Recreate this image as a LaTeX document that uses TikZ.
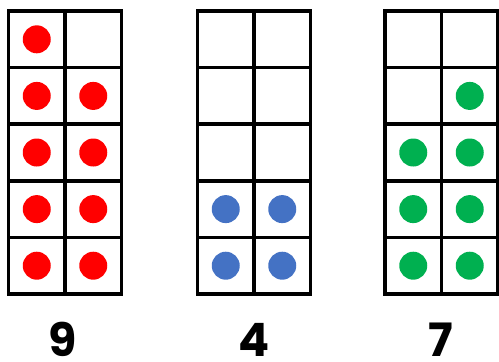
\documentclass[tikz,border=0pt]{standalone}
\usepackage{fontspec}
\setmainfont{Poppins}
\definecolor{dotred}{HTML}{FF0000}
\definecolor{dotblue}{HTML}{4472C4}
\definecolor{dotgreen}{HTML}{00B050}
\begin{document}
\begin{tikzpicture}[x=1pt,y=-1pt,
  gridline/.style={line width=3.6pt,black},
  counter/.style={circle,inner sep=0pt,minimum size=28pt},
  numlabel/.style={anchor=base,inner sep=0pt,font=\fontsize{46}{46}\selectfont\bfseries}]
\useasboundingbox (0,0) rectangle (499,362);
\def\cw{56.5}\def\ch{56.6}
% frames
\foreach \fx/\nm in {8.5/a,197.5/b,385/c}{
  \draw[gridline] (\fx,11) rectangle ++(113,283);
  \draw[gridline] (\fx+\cw,11) -- ++(0,283);
  \foreach \r in {1,...,4}{\draw[gridline] (\fx,11+\r*\ch) -- ++(113,0);}
}
% dots: frame 1
\foreach \c/\r [count=\i] in {0/0,0/1,1/1,0/2,1/2,0/3,1/3,0/4,1/4}{
  \node[counter,fill=dotred] (r\i) at (8.5+\c*\cw+\cw/2,11+\r*\ch+\ch/2) {};}
% frame 2
\foreach \c/\r [count=\i] in {0/3,1/3,0/4,1/4}{
  \node[counter,fill=dotblue] (b\i) at (197.5+\c*\cw+\cw/2,11+\r*\ch+\ch/2) {};}
% frame 3
\foreach \c/\r [count=\i] in {1/1,0/2,1/2,0/3,1/3,0/4,1/4}{
  \node[counter,fill=dotgreen] (g\i) at (385+\c*\cw+\cw/2,11+\r*\ch+\ch/2) {};}
\node[numlabel] (n9) at (63,356.5) {9};
\node[numlabel] (n4) at (254.5,356.5) {4};
\node[numlabel] (n7) at (440.5,356.5) {7};
\end{tikzpicture}
\end{document}
